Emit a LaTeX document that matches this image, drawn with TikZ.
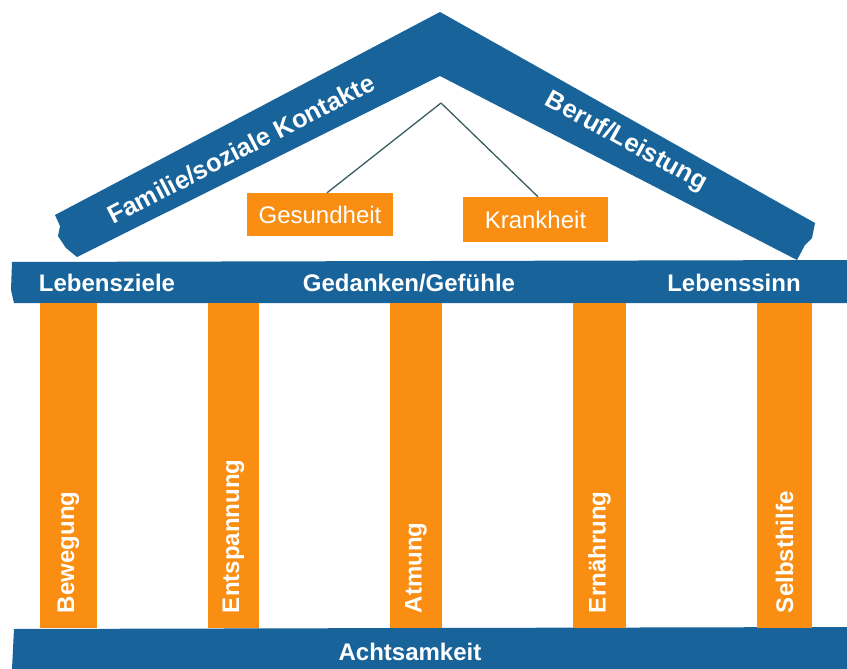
\documentclass[tikz,border=0pt]{standalone}
\usepackage{fontspec}
\setmainfont{Liberation Sans}
\definecolor{templeblue}{HTML}{17639A}
\definecolor{templeorange}{HTML}{F98E12}
\definecolor{hangline}{HTML}{3B5D63}
\begin{document}
\begin{tikzpicture}[x=1pt,y=-1pt,
  beam/.style={fill=templeblue, draw=none},
  pillar/.style={fill=templeorange, draw=none, inner sep=0pt, minimum height=325pt},
  sign/.style={fill=templeorange, draw=none, inner sep=0pt, text=white,
    font=\fontsize{24}{28}\selectfont},
  blbl/.style={text=white, inner sep=0pt, font=\fontsize{24}{28}\selectfont\bfseries},
  rooflbl/.style={blbl, font=\fontsize{25.5}{30}\selectfont\bfseries},
  plbl/.style={blbl, rotate=90, anchor=west},
  hang/.style={draw=hangline, line width=1.3pt}]
\useasboundingbox (0,0) rectangle (847,669);

% roof
\path[beam] (55,215) -- (440,12) -- (815,223) -- (812,238) -- (805,245) -- (797,260)
  -- (440,76) -- (77,257) -- (66,248) -- (58,236) -- (60,226) -- cycle;
% beams
\path[beam] (12,262) -- (847,260) -- (847,303) -- (14,303) -- (11,290) -- cycle;
\path[beam] (14,629) -- (847,627) -- (847,669) -- (12,669) -- cycle;

% pillars
\node[pillar, minimum width=57pt] (p1) at (68.5,465.5) {};
\node[pillar, minimum width=51pt] (p2) at (233.5,465.5) {};
\node[pillar, minimum width=52pt] (p3) at (416,465.5) {};
\node[pillar, minimum width=53pt] (p4) at (599.5,465.5) {};
\node[pillar, minimum width=55pt] (p5) at (784.5,465.5) {};

\node[plbl] at ([yshift=15pt]p1.south) {Bewegung};
\node[plbl] at ([yshift=15pt]p2.south) {Entspannung};
\node[plbl] at ([yshift=15pt]p3.south) {Atmung};
\node[plbl] at ([yshift=15pt]p4.south) {Ernährung};
\node[plbl] at ([yshift=15pt]p5.south) {Selbsthilfe};

% beam labels
\node[blbl, anchor=base] (ziele) at (107,291) {Lebensziele};
\node[blbl, anchor=base] (gedanken) at (409,291) {Gedanken/Gefühle};
\node[blbl, anchor=base] (sinn) at (734,291) {Lebenssinn};
\node[blbl, anchor=base] (acht) at (410,660) {Achtsamkeit};

% roof labels
\node[rooflbl, rotate=27.3] (familie) at (241,149) {Familie/soziale Kontakte};
\node[rooflbl, rotate=-28.6] (beruf) at (626,142) {Beruf/Leistung};

% hanging signs
\node[sign, minimum width=146pt, minimum height=43pt] (ges) at (320,214.5) {Gesundheit};
\node[sign, minimum width=145pt, minimum height=45pt] (krank) at (535.5,219.5) {Krankheit};
\coordinate (hook) at (441,103);
\draw[hang] (hook) -- ([xshift=7pt]ges.north);
\draw[hang] (hook) -- ([xshift=2.5pt]krank.north);
\end{tikzpicture}
\end{document}
